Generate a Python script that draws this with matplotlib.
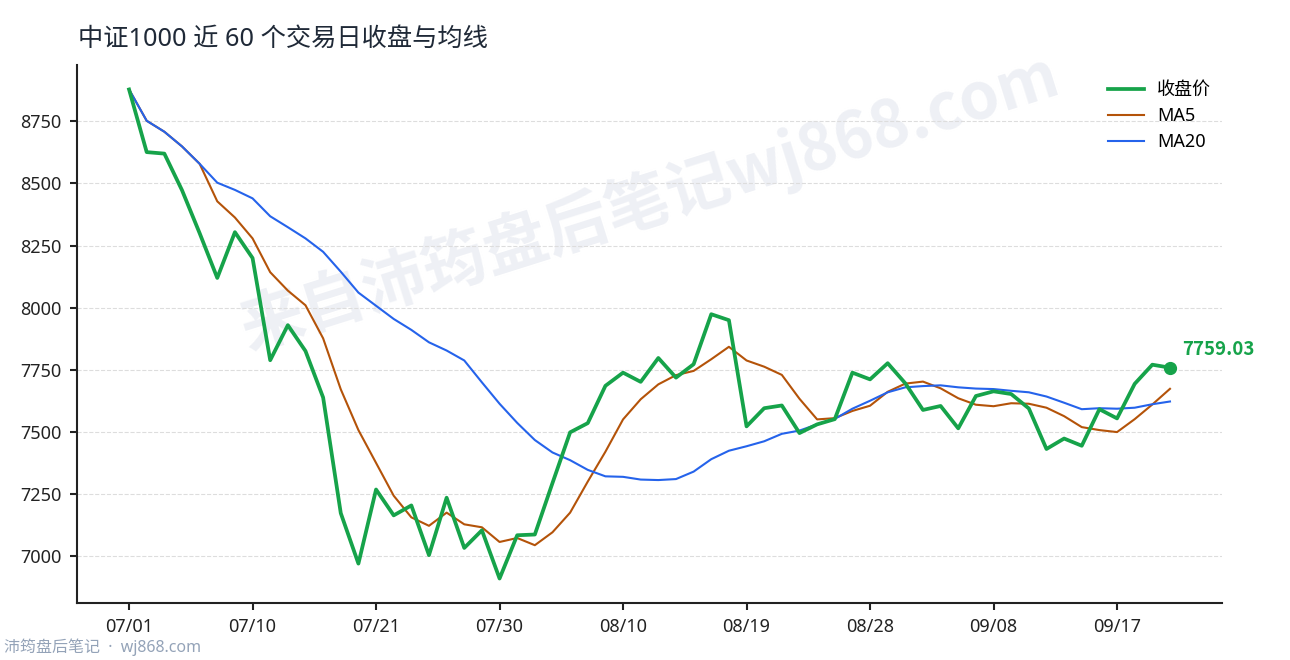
import matplotlib
matplotlib.use("Agg")
import matplotlib.pyplot as plt
from matplotlib.ticker import MultipleLocator
import numpy as np

plt.rcParams["font.family"] = ["Noto Sans CJK SC", "DejaVu Sans"]

# trading days (MM/DD)
dates = ["07/01", "07/02", "07/03", "07/04", "07/07", "07/08", "07/09", "07/10",
         "07/11", "07/14", "07/15", "07/16", "07/17", "07/18", "07/21", "07/22",
         "07/23", "07/24", "07/25", "07/28", "07/29", "07/30", "07/31", "08/01",
         "08/04", "08/05", "08/06", "08/07", "08/10", "08/11", "08/12", "08/13",
         "08/14", "08/15", "08/18", "08/19", "08/20", "08/21", "08/22", "08/25",
         "08/26", "08/27", "08/28", "08/29", "09/01", "09/02", "09/03", "09/04",
         "09/05", "09/08", "09/09", "09/10", "09/11", "09/12", "09/15", "09/16",
         "09/17", "09/18", "09/19", "09/22"]

close = [8878, 8626, 8620, 8473, 8300, 8120, 8304, 8200, 7789, 7930,
         7826, 7639, 7174, 6971, 7269, 7165, 7205, 7005, 7236, 7034,
         7105, 6911, 7085, 7088, 7295, 7499, 7536, 7686, 7739, 7702,
         7798, 7719, 7773, 7974, 7950, 7523, 7596, 7607, 7496, 7531,
         7552, 7739, 7712, 7777, 7696, 7589, 7605, 7515, 7645, 7664,
         7653, 7595, 7432, 7474, 7445, 7592, 7555, 7694, 7771, 7759.03]

ma5 = [8878, 8752, 8708, 8649, 8579, 8428, 8363, 8279, 8143, 8069,
       8010, 7877, 7672, 7508, 7376, 7244, 7157, 7123, 7176, 7129,
       7117, 7058, 7074, 7045, 7097, 7176, 7301, 7421, 7551, 7632,
       7692, 7729, 7746, 7793, 7843, 7788, 7763, 7730, 7634, 7551,
       7556, 7585, 7606, 7662, 7695, 7703, 7676, 7636, 7610, 7604,
       7616, 7614, 7598, 7564, 7520, 7508, 7500, 7552, 7611, 7674]

ma20 = [8878, 8752, 8708, 8649, 8579, 8503, 8474, 8440, 8368, 8324,
        8279, 8225, 8145, 8061, 8008, 7955, 7911, 7861, 7828, 7788,
        7700, 7614, 7537, 7468, 7418, 7387, 7348, 7322, 7320, 7309,
        7307, 7311, 7341, 7391, 7425, 7443, 7463, 7493, 7506, 7531,
        7553, 7594, 7626, 7660, 7680, 7685, 7688, 7680, 7675, 7673,
        7666, 7660, 7643, 7618, 7592, 7596, 7594, 7598, 7612, 7623]

GREEN = "#16a34a"
ORANGE = "#b45309"
BLUE = "#2563eb"
LATIN = ["Noto Sans", "Noto Sans CJK SC", "DejaVu Sans"]

x = np.arange(len(close))

fig = plt.figure(figsize=(12.9, 6.6), dpi=100)
ax = fig.add_axes([0.0597, 0.0864, 0.8876, 0.8151])

ax.plot(x, close, c=GREEN, lw=2.7, label="收盘价", zorder=4)
ax.plot(x, ma5, c=ORANGE, lw=1.5, label="MA5", zorder=3)
ax.plot(x, ma20, c=BLUE, lw=1.5, label="MA20", zorder=3)

# last point marker + label
ax.plot(x[-1], close[-1], "o", c=GREEN, ms=8.5, zorder=5)
ax.annotate("{:.2f}".format(close[-1]), (x[-1], close[-1]), xytext=(9, 13),
            textcoords="offset points", ha="left", va="center",
            color=GREEN, fontsize=13.5, fontweight="bold",
            family=["Noto Sans CJK SC"])

ax.set_xticks(x[::7])
ax.set_xticklabels(dates[::7])
ax.yaxis.set_major_locator(MultipleLocator(250))

ax.grid(axis="y", ls="--", lw=0.8, c="#dddddd")
ax.set_axisbelow(True)
for s in ["top", "right"]:
    ax.spines[s].set_visible(False)
for s in ["left", "bottom"]:
    ax.spines[s].set_linewidth(1.5)
    ax.spines[s].set_color("#222222")
ax.tick_params(length=5, width=1.5, color="#222222", labelsize=13,
               labelcolor="#222222")
ax.tick_params(axis="y", pad=6)
ax.tick_params(axis="x", pad=6)
for lab in ax.get_xticklabels() + ax.get_yticklabels():
    lab.set_family(LATIN)

leg = ax.legend(loc="upper left", bbox_to_anchor=(0.9005, 0.97), frameon=False,
                prop={"family": LATIN, "size": 13}, borderpad=0,
                borderaxespad=0, handlelength=2.0, handletextpad=0.7,
                labelspacing=0.45)

# watermark
ax.text(0.5, 0.745, "来自沛筠盘后笔记wj868.com", transform=ax.transAxes,
        ha="center", va="center", rotation=17.5, rotation_mode="anchor",
        fontsize=46, fontweight="bold", color="#eef0f5", zorder=0)

fig.text(0.0605, 0.93, "中证1000 近 60 个交易日收盘与均线", fontsize=18.2,
         color="#1f2937", ha="left", va="baseline", family=LATIN)
fig.text(0.003, 0.006, "沛筠盘后笔记  ·  wj868.com", fontsize=11.5,
         color="#94a3b8", ha="left", va="bottom", family=LATIN)

fig.savefig("out.png", dpi=100)
